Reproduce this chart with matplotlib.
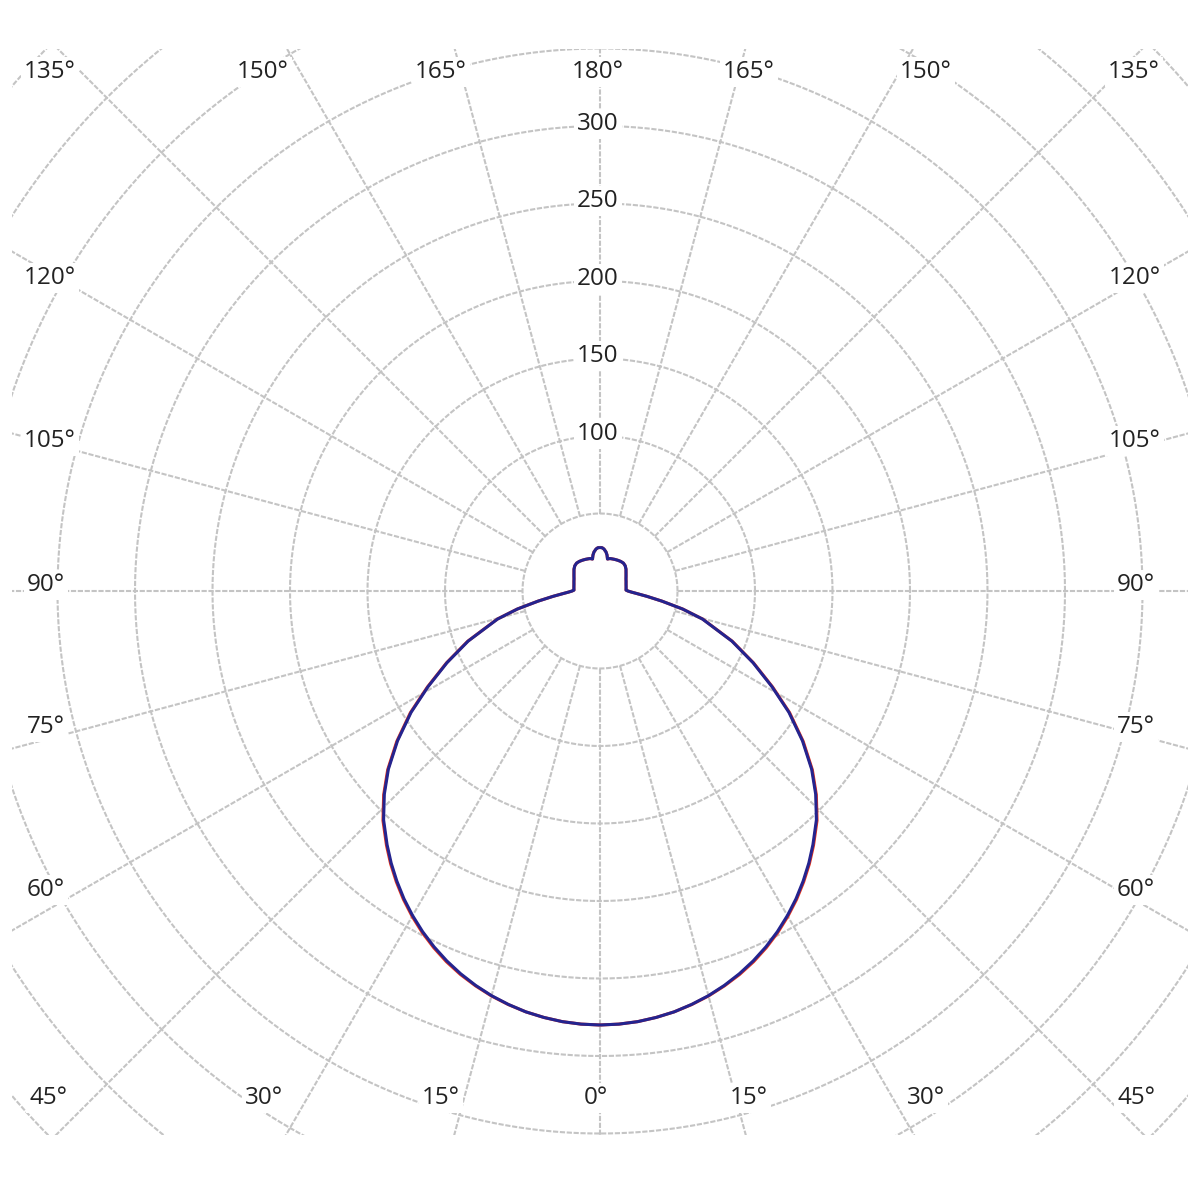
import matplotlib
matplotlib.use("Agg")
import matplotlib.pyplot as plt
import numpy as np

# luminous intensity (cd) against gamma angle (deg)
gamma = [0, 2.5, 5, 7.5, 10, 12.5, 15, 17.5, 20, 22.5, 25, 27.5, 30, 32.5,
         35, 37.5, 40, 43.4, 46.7, 49.9, 53.5, 57.3, 60.9, 64.9, 69.2, 74.7,
         77.7, 80.7, 83.5, 86.2, 88, 90, 92, 95, 100, 105, 110, 115, 120, 125,
         130, 135, 140, 145, 150, 155, 160, 163, 166.8, 169, 171.3, 174.6,
         177, 180]
blue_cd = [280, 279.7, 278.9, 277.5, 275.7, 273.2, 270.3, 266.8, 262.8, 258.3,
           253.3, 247.8, 241.8, 235.4, 228.5, 221.3, 213.7, 203.2, 191.2,
           178.5, 162.5, 144.8, 127.0, 109.0, 91.0, 68.5, 54.5, 40.5, 30.5,
           23.5, 20.3, 18.0, 16.8, 16.9, 17.1, 17.4, 17.9, 18.5, 19.4, 20.5,
           21.9, 23.0, 23.5, 23.3, 22.9, 22.5, 22.1, 21.9, 21.2, 23.7, 25.5,
           27.2, 27.9, 28.1]
red_cd = [280, 279.7, 278.9, 277.5, 275.7, 273.3, 270.5, 267.1, 263.3, 258.9,
          253.9, 248.4, 242.4, 236.0, 229.1, 221.9, 214.3, 203.8, 191.8,
          179.1, 163.1, 145.4, 127.5, 109.4, 91.3, 68.7, 54.6, 40.5, 30.5,
          23.5, 20.3, 18.0, 16.8, 16.9, 17.1, 17.4, 17.9, 18.5, 19.4, 20.5,
          21.9, 23.0, 23.5, 23.3, 22.9, 22.5, 22.1, 21.9, 21.2, 23.7, 25.5,
          27.2, 27.9, 28.1]

ring_values = [50, 100, 150, 200, 250, 300, 350, 400, 450, 500, 550]
ring_labels = [100, 150, 200, 250, 300]
spoke_angles = list(range(0, 360, 15))

# angle labels: text and pixel centre in the 1200x1200 picture
angle_label_text = ["135°", "150°", "165°", "180°", "165°", "150°", "135°",
                    "120°", "105°", "90°", "75°", "60°",
                    "120°", "105°", "90°", "75°", "60°",
                    "45°", "30°", "15°", "0°", "15°", "30°", "45°"]
angle_label_px = [(50, 72), (263, 72), (441, 72), (598, 72), (749, 72),
                  (926, 72), (1134, 72),
                  (50, 278), (50, 441), (46, 585), (46, 727), (46, 890),
                  (1135, 278), (1135, 441), (1136, 585), (1136, 727), (1136, 890),
                  (48, 1098), (264, 1098), (441, 1098), (596, 1098), (749, 1098),
                  (926, 1098), (1136, 1098)]

SCALE = 1.55  # pixels per candela
CX, CY = 600, 591

fig = plt.figure(figsize=(12, 12), dpi=100)
ax = fig.add_axes([12 / 1200, 65 / 1200, 1176 / 1200, 1086 / 1200])
ax.set_xlim((12 - CX) / SCALE, (1188 - CX) / SCALE)
ax.set_ylim((CY - 1135) / SCALE, (CY - 49) / SCALE)
ax.axis("off")

grid_kw = dict(color="#c4c4c4", linewidth=1.5, linestyle=(0, (2.5, 0.8)), zorder=1)
t = np.linspace(0, 2 * np.pi, 721)
for r in ring_values:
    ax.plot(r * np.cos(t), r * np.sin(t), **grid_kw)
for a in spoke_angles:
    rad = np.deg2rad(a)
    ax.plot([50 * np.sin(rad), 700 * np.sin(rad)],
            [-50 * np.cos(rad), -700 * np.cos(rad)], **grid_kw)


def draw_curve(values, color):
    g = np.deg2rad(np.asarray(gamma, dtype=float))
    v = np.asarray(values, dtype=float)
    for side in (-1, 1):
        ax.plot(side * v * np.sin(g), -v * np.cos(g), color=color,
                linewidth=2.2, solid_capstyle="butt", solid_joinstyle="round",
                zorder=4)


draw_curve(red_cd, "#e8341c")
draw_curve(blue_cd, "#24248f")

label_kw = dict(fontsize=17.5, family=["Open Sans", "DejaVu Sans"], color="#222222",
                ha="center", va="center", zorder=5,
                bbox=dict(boxstyle="square,pad=0.12", fc="white", ec="none"))
for value in ring_labels:
    ax.text(-2 / SCALE, value + 1.5, str(value), **label_kw)
for text, (px, py) in zip(angle_label_text, angle_label_px):
    ax.text((px - CX) / SCALE, (CY - py) / SCALE, text, **label_kw)

fig.savefig("out.png", dpi=100, facecolor="white")
